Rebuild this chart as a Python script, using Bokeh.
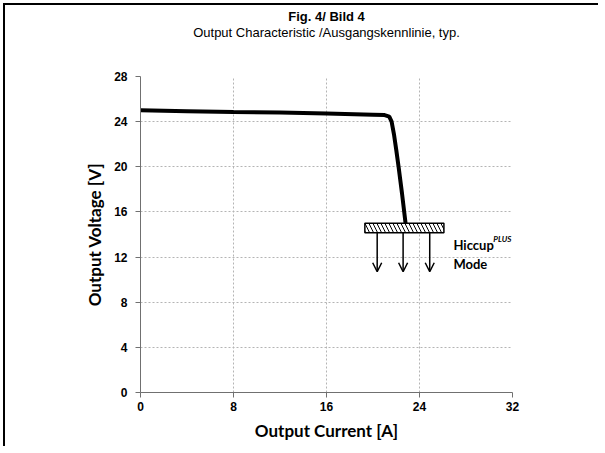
from bokeh.plotting import figure
from bokeh.models import Range1d, FixedTicker, Label, Arrow, OpenHead, ColumnDataSource, Title
from bokeh.embed import file_html
from bokeh.resources import INLINE

# Data
current = [0, 4, 8, 12, 16, 20, 21.0, 21.4, 21.6, 21.8, 22.0, 22.2, 22.5, 22.8]
voltage = [25.0, 24.93, 24.86, 24.8, 24.72, 24.62, 24.58, 24.45, 24.0, 22.9, 21.5, 20.0, 17.6, 15.0]
x_ticks = [0, 8, 16, 24, 32]
y_ticks = [0, 4, 8, 12, 16, 20, 24, 28]
hiccup_box = dict(left=[19.3], right=[26.1], bottom=[14.15], top=[15.0])
arrow_x = [20.36, 22.59, 24.88]
arrow_top = [14.15, 14.15, 14.15]
arrow_bottom = [10.7, 10.7, 10.7]
title_main = "Fig. 4/ Bild 4"
title_sub = "Output Characteristic /Ausgangskennlinie, typ."

p = figure(width=595, height=443, output_backend="svg", toolbar_location=None,
           x_range=Range1d(0, 32), y_range=Range1d(0, 28),
           min_border_left=135, min_border_right=88, min_border_top=0, min_border_bottom=56,
           styles={"border-left": "2px solid black", "border-top": "2px solid black",
                   "margin-left": "3px", "margin-top": "3px"})
p.outline_line_color = None
p.background_fill_color = "white"
p.border_fill_color = "white"

# titles: spacer closest to frame, then subtitle, then main title, then top spacer
p.add_layout(Title(text=" ", text_font_size="12px", standoff=16), "above")
p.add_layout(Title(text=title_sub, align="center", offset=-24, text_font="Liberation Sans",
                   text_font_style="normal", text_font_size="13px", text_color="black"), "above")
p.add_layout(Title(text=title_main, align="center", offset=-24, standoff=-12,
                   text_font="Liberation Sans",
                   text_font_style="bold", text_font_size="13px", text_color="black"), "above")
p.add_layout(Title(text=" ", text_font_size="1px", standoff=4), "above")

for ax, ticks in ((p.xaxis, x_ticks), (p.yaxis, y_ticks)):
    ax.ticker = FixedTicker(ticks=ticks)
    ax.minor_tick_line_color = None
    ax.major_tick_in = 0
    ax.major_tick_out = 5
    ax.axis_line_color = "#707070"
    ax.major_tick_line_color = "#707070"
    ax.major_label_text_font = "Liberation Sans"
    ax.major_label_text_font_style = "bold"
    ax.major_label_text_font_size = "12px"
    ax.major_label_text_color = "black"
    ax.axis_label_text_font = "Lato"
    ax.axis_label_text_font_style = "bold"
    ax.axis_label_text_font_size = "17px"
    ax.axis_label_text_color = "black"

p.xaxis.axis_label = "Output Current [A]"
p.yaxis.axis_label = "Output Voltage [V]"
p.xaxis.major_label_standoff = 4
p.yaxis.major_label_standoff = 8
p.xaxis.axis_label_standoff = 6
p.yaxis.axis_label_standoff = 6

for g in (p.xgrid, p.ygrid):
    g.grid_line_color = "#b4b4b4"
    g.grid_line_dash = "2 2"
    g.grid_line_width = 1

p.line(current, voltage, line_color="black", line_width=4)

p.quad(left=hiccup_box["left"], right=hiccup_box["right"], bottom=hiccup_box["bottom"],
       top=hiccup_box["top"], fill_color="white", line_color="black", line_width=1.5,
       hatch_pattern="\\", hatch_color="black", hatch_scale=8, hatch_weight=1)

src = ColumnDataSource(dict(x0=arrow_x, y0=arrow_top, x1=arrow_x, y1=arrow_bottom))
p.add_layout(Arrow(x_start="x0", y_start="y0", x_end="x1", y_end="y1", source=src,
                   line_width=1.5, line_color="black",
                   end=OpenHead(size=9, line_width=1.5, line_color="black")))

p.add_layout(Label(x=26.92, y=13.11, text="Hiccup", text_font="Lato", text_color="black",
                   text_font_style="bold", text_font_size="13px",
                   text_baseline="middle", text_align="left"))
p.add_layout(Label(x=30.35, y=13.6, text="PLUS", text_font="Lato", text_color="black",
                   text_font_style="bold italic", text_font_size="8px",
                   text_baseline="middle", text_align="left"))
p.add_layout(Label(x=26.92, y=11.43, text="Mode", text_font="Lato", text_color="black",
                   text_font_style="bold", text_font_size="13px",
                   text_baseline="middle", text_align="left"))

open("out.html", "w").write(file_html(p, INLINE))
